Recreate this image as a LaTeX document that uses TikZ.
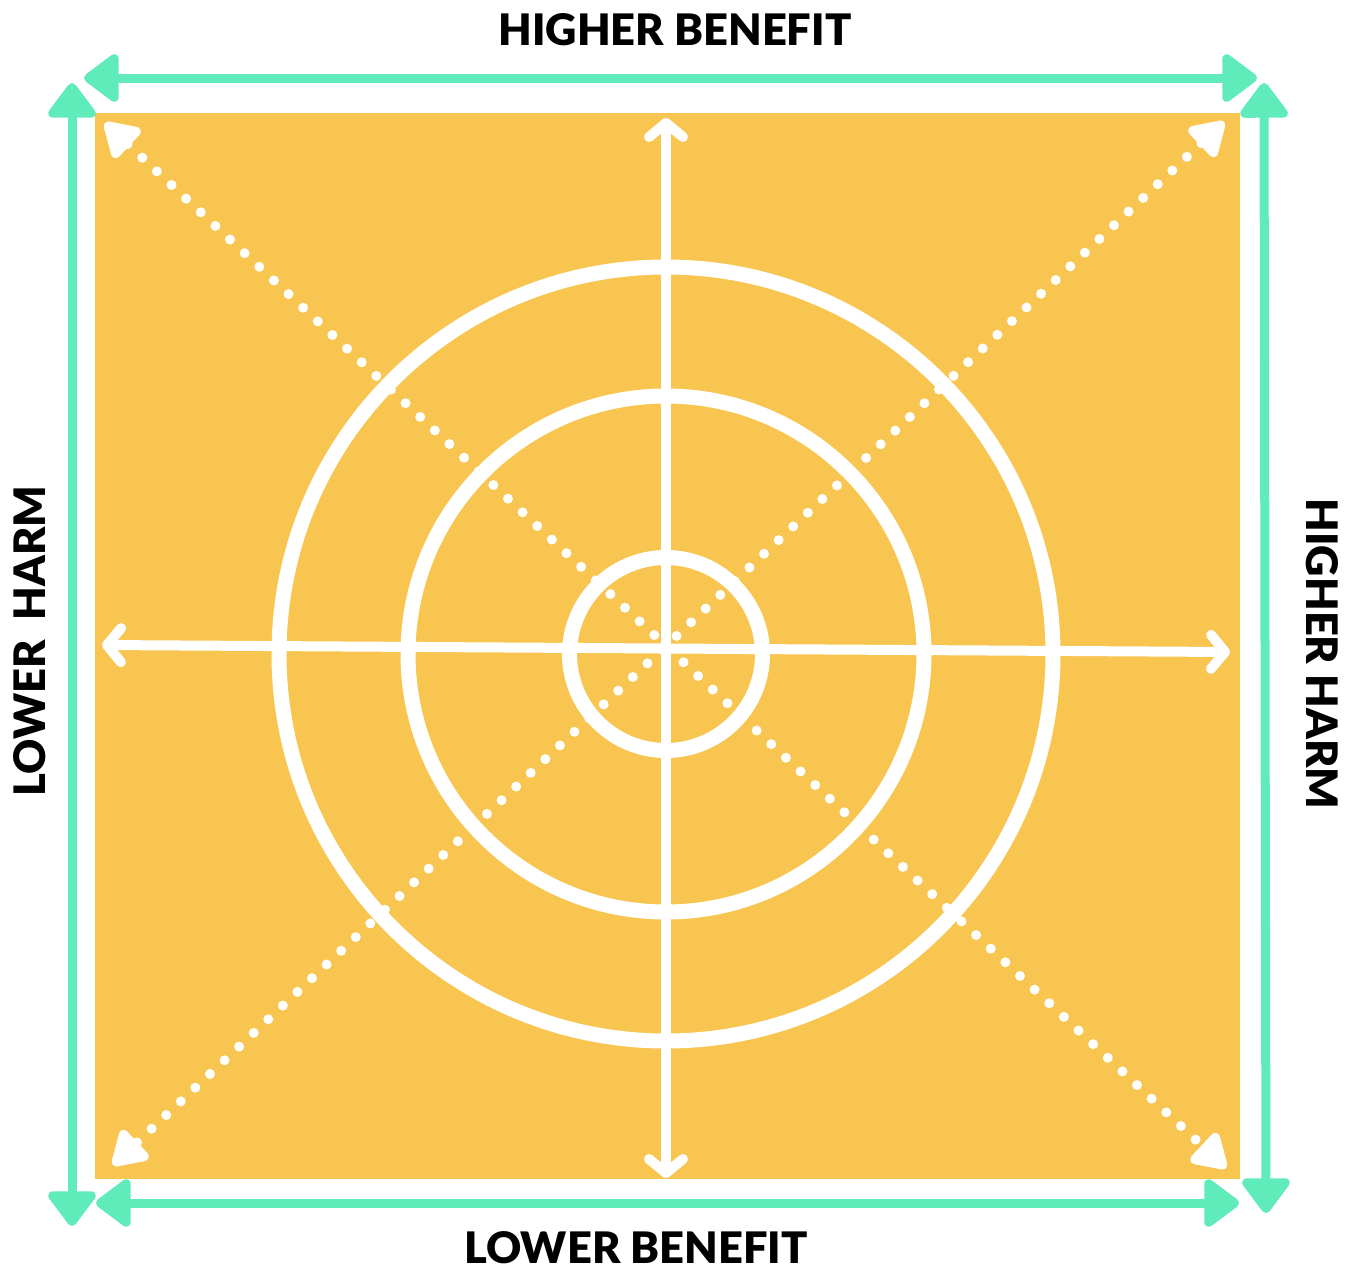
\documentclass[tikz,border=0pt]{standalone}
\usepackage{fontspec}
\setmainfont{Lato}[BoldFont={Lato Black}]
\usetikzlibrary{arrows.meta}
\definecolor{board}{HTML}{F7C550}
\definecolor{mint}{HTML}{60EBBA}

\begin{document}
\begin{tikzpicture}[x=0.5pt,y=-0.5pt,
    every node/.style={font=\fontsize{21.7}{26}\selectfont\bfseries},
    edgearrow/.style={mint,line width=4.5pt,{Triangle[round,length=19pt,width=27pt]}-{Triangle[round,length=19pt,width=27pt]}},
    cross/.style={white,line width=5pt,line cap=round,{Straight Barb[round,length=7pt,width=17pt]}-{Straight Barb[round,length=7pt,width=17pt]}},
    diag/.style={white,line width=5pt,line cap=round,dash pattern=on 0pt off 10pt,{Triangle[round,length=19pt,width=22pt]}-{Triangle[round,length=19pt,width=22pt]}},
    ring/.style={white,line width=7.5pt}]
  \useasboundingbox (0,0) rectangle (1356,1270);
  \fill[board] (95,113) rectangle (1240,1179);

  % corner points of the outer scales
  \coordinate (tl) at (84,78);   \coordinate (tr) at (1257,78);
  \coordinate (lt) at (72,83);   \coordinate (lb) at (72,1226);
  \coordinate (bl) at (96,1203); \coordinate (br) at (1239,1203);
  \coordinate (rt) at (1264,83); \coordinate (rb) at (1266,1213);
  \foreach \x/\y in {tl/tr,lt/lb,bl/br,rt/rb} \draw[edgearrow] (\x)--(\y);

  % target rings
  \coordinate (o) at (666,654);
  \foreach \r in {387,258,96.5} \draw[ring] (o) circle[radius=\r];

  % axes and diagonals
  \coordinate (n) at (666,118);  \coordinate (s) at (666,1178);
  \coordinate (w) at (102,645);  \coordinate (e) at (1230,652);
  \draw[cross] (n)--(s);
  \draw[cross] (w)--(e);
  \coordinate (nw) at (105,123); \coordinate (se) at (1226,1168);
  \coordinate (ne) at (1224,122); \coordinate (sw) at (113,1165);
  \draw[diag] (nw)--(se);
  \draw[diag] (ne)--(sw);

  \node (hben) at (675,30) {HIGHER BENEFIT};
  \node (lben) at (636,1248) {LOWER BENEFIT};
  \node[rotate=90] (lharm) at (30,641) {LOWER~\ HARM};
  \node[rotate=-90] (hharm) at (1322,654) {HIGHER HARM};
\end{tikzpicture}
\end{document}
